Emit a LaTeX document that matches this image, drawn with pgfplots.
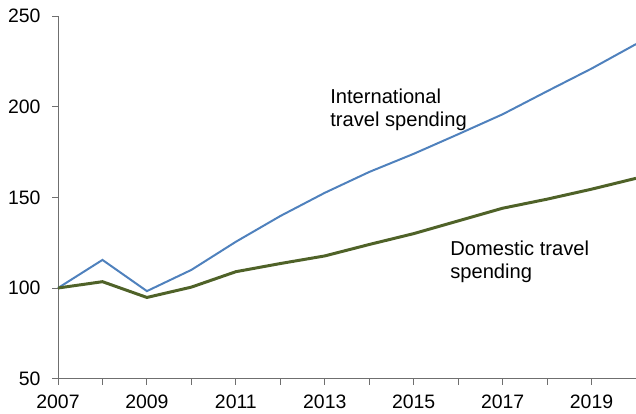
\documentclass[border=0pt]{standalone}
\usepackage{fontspec}
\setmainfont{Liberation Sans}
\usepackage{pgfplots}
\pgfplotsset{compat=1.18}
\definecolor{intblue}{HTML}{4F81BD}
\definecolor{domgreen}{HTML}{4F6228}
\definecolor{axgray}{HTML}{6F6F6F}
\begin{document}
\begin{tikzpicture}
\useasboundingbox (0,0) rectangle (636bp,414bp);
\begin{axis}[
  at={(58bp,35.3bp)}, anchor=south west,
  scale only axis,
  width=578bp, height=362.7bp,
  xmin=2007, xmax=2020, ymin=50, ymax=250,
  axis x line*=bottom, axis y line*=left,
  axis line style={axgray, line width=0.9pt, -},
  xtick={2007,2008,...,2020},
  xticklabels={2007,,2009,,2011,,2013,,2015,,2017,,2019,},
  ytick={50,100,150,200,250},
  xtick pos=bottom, ytick pos=left,
  tick align=outside,
  major tick length=6bp,
  major tick style={axgray, line width=0.9pt},
  ticklabel style={font=\fontsize{19.5}{23.4}\selectfont},
  xticklabel style={yshift=-6.5bp},
  yticklabel style={xshift=-8bp},
  /pgf/number format/assume math mode=true,
  /pgf/number format/1000 sep={},
  clip=false,
]
\addplot[intblue, line width=2pt] coordinates {
(2007,100) (2008,115.5) (2009,98.3) (2010,110) (2011,125.5) (2012,139.7)
(2013,152.5) (2014,164) (2015,174) (2016,184.8) (2017,195.8) (2018,208.5)
(2019,221) (2020,234.5)
};
\addplot[domgreen, line width=3pt] coordinates {
(2007,100) (2008,103.5) (2009,94.8) (2010,100.5) (2011,109) (2012,113.5)
(2013,117.7) (2014,124) (2015,130) (2016,137) (2017,144) (2018,149)
(2019,154.5) (2020,160.5)
};
\node[anchor=base west, inner sep=0pt, font=\fontsize{20.2}{24}\selectfont] at (axis cs:2013.12,201.86) {International};
\node[anchor=base west, inner sep=0pt, font=\fontsize{20.2}{24}\selectfont] at (axis cs:2013.12,188.96) {travel spending};
\node[anchor=base west, inner sep=0pt, font=\fontsize{20.2}{24}\selectfont] at (axis cs:2015.82,118.2) {Domestic travel};
\node[anchor=base west, inner sep=0pt, font=\fontsize{20.2}{24}\selectfont] at (axis cs:2015.82,105.5) {spending};
\end{axis}
\end{tikzpicture}
\end{document}
